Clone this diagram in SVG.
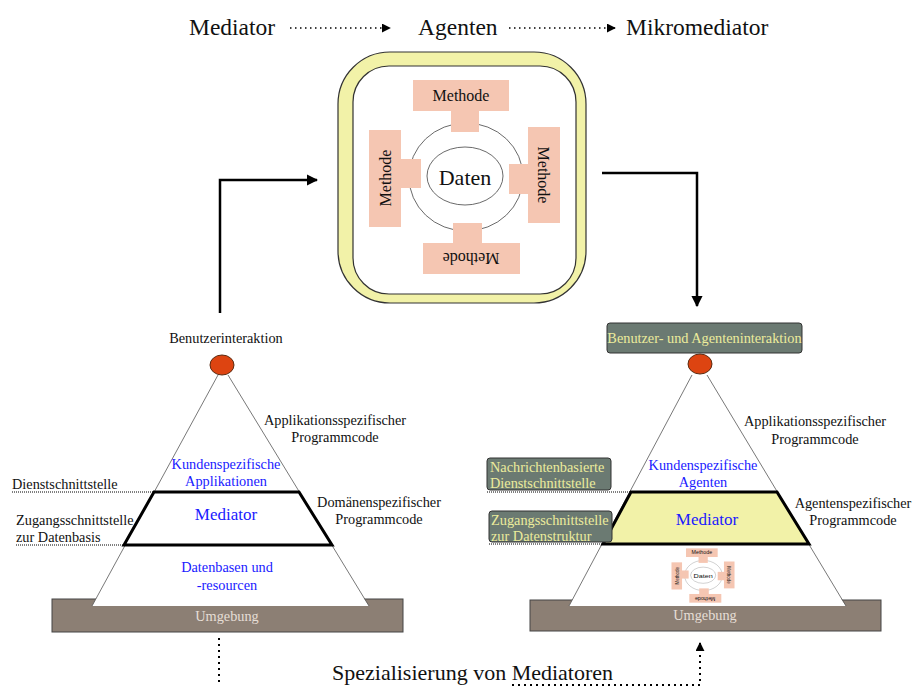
<svg xmlns="http://www.w3.org/2000/svg" xmlns:xlink="http://www.w3.org/1999/xlink" width="913" height="686" viewBox="0 0 913 686">
<style>
  text { font-family: "Liberation Serif", "Times New Roman", serif; fill: #111; }
  .t14 { font-size: 14.3px; }
  .blue { fill: #1a1aff; }
  .title { font-size: 23.5px; }
  .yel { fill: #ecec9c; }
  .box { fill: #6b7a72; stroke: #333; stroke-width: 1; }
  .salmon { fill: #f5c6b2; }
  .side { stroke: #555; stroke-width: 0.8; fill: none; }
  .trap { stroke: #000; stroke-width: 3; stroke-linejoin: miter; }
  .base { fill: #8c7f74; stroke: #444; stroke-width: 1; }
  .red { fill: #dd4411; stroke: #5a2a10; stroke-width: 1; }
  .thin-dot { stroke: #000; stroke-width: 1; stroke-dasharray: 1 1; fill: none; }
  .conn { stroke: #000; stroke-width: 2.5; fill: none; }
  .dots { stroke: #000; stroke-width: 2; stroke-dasharray: 2 4; fill: none; }
  .tdots { stroke: #000; stroke-width: 1.5; stroke-dasharray: 1.5 3.5; fill: none; }
</style>
<defs>
  <marker id="ah" viewBox="0 0 10 10" refX="9" refY="5" markerWidth="4.5" markerHeight="4.5" orient="auto" markerUnits="strokeWidth">
    <path d="M0,0 L10,5 L0,10 z" fill="#000"/>
  </marker>
  <marker id="ahs" viewBox="0 0 10 10" refX="9" refY="5" markerWidth="6" markerHeight="6" orient="auto" markerUnits="strokeWidth">
    <path d="M0,0 L10,5 L0,10 z" fill="#000"/>
  </marker>
  <g id="core">
    <ellipse cx="466" cy="177" rx="57" ry="54" fill="none" stroke="#444" stroke-width="0.8"/>
    <ellipse cx="465" cy="176" rx="38" ry="29" fill="#fff" stroke="#444" stroke-width="0.8"/>
    <text x="465" y="185" text-anchor="middle" style="font-size:22px;font-family:inherit">Daten</text>
    <rect class="salmon" x="413" y="80" width="96" height="31"/>
    <rect class="salmon" x="451" y="110" width="28" height="22"/>
    <text x="461" y="101" text-anchor="middle" style="font-size:16px;font-family:inherit">Methode</text>
    <rect class="salmon" x="369" y="130" width="32" height="97"/>
    <rect class="salmon" x="400" y="159" width="21" height="29"/>
    <text transform="translate(391,178) rotate(-90)" text-anchor="middle" style="font-size:16px;font-family:inherit">Methode</text>
    <rect class="salmon" x="528" y="127" width="32" height="96"/>
    <rect class="salmon" x="509" y="164" width="20" height="30"/>
    <text transform="translate(538,175) rotate(90)" text-anchor="middle" style="font-size:16px;font-family:inherit">Methode</text>
    <rect class="salmon" x="423" y="243" width="97" height="31"/>
    <rect class="salmon" x="453" y="223" width="29" height="21"/>
    <text transform="translate(471,253) rotate(180)" text-anchor="middle" style="font-size:16px;font-family:inherit">Methode</text>
  </g>
</defs>

<!-- Title row -->
<g id="title">
  <text class="title" x="189" y="35">Mediator</text>
  <text class="title" x="418" y="35">Agenten</text>
  <text class="title" x="626" y="35">Mikromediator</text>
</g>

<!-- Mikromediator -->
<g id="mikromediator">
  <rect x="338" y="52" width="248" height="251" rx="52" ry="52" fill="#f2f2a8" stroke="#333" stroke-width="1.2"/>
  <rect x="353" y="66" width="223" height="228" rx="36" ry="36" fill="#fff" stroke="#333" stroke-width="1.2"/>
  <use xlink:href="#core" style="font-family:'Liberation Serif', 'Times New Roman', serif"/>
</g>

<!-- Left pyramid -->
<g id="left-pyramid">
  <rect class="base" x="52" y="599" width="351" height="33"/>
  <polygon points="218,375 92,606 369,606" fill="#fff"/>
  <line class="side" x1="218" y1="375" x2="92" y2="606"/>
  <line class="side" x1="228" y1="375" x2="369" y2="606"/>
  <polygon class="trap" points="154,492 299,492 332,545 124,545" fill="#fff"/>
  <ellipse class="red" cx="222" cy="365" rx="12" ry="10"/>
  <text class="t14" x="226" y="343" text-anchor="middle">Benutzerinteraktion</text>
  <text class="t14" x="335" y="425" text-anchor="middle">Applikationsspezifischer</text>
  <text class="t14" x="335" y="442" text-anchor="middle">Programmcode</text>
  <text class="t14 blue" x="226" y="469" text-anchor="middle">Kundenspezifische</text>
  <text class="t14 blue" x="226" y="486" text-anchor="middle">Applikationen</text>
  <text class="blue" x="226" y="520" text-anchor="middle" style="font-size:17px">Mediator</text>
  <text class="t14 blue" x="227" y="572" text-anchor="middle">Datenbasen und</text>
  <text class="t14 blue" x="227" y="590" text-anchor="middle">-resourcen</text>
  <text class="t14" x="227" y="621" text-anchor="middle" style="fill:#e6ded6">Umgebung</text>
  <text class="t14" x="12" y="489">Dienstschnittstelle</text>
  <line class="thin-dot" x1="12" y1="492" x2="154" y2="492"/>
  <text class="t14" x="16" y="525">Zugangsschnittstelle</text>
  <text class="t14" x="16" y="542">zur Datenbasis</text>
  <line class="thin-dot" x1="16" y1="545" x2="124" y2="545"/>
  <text class="t14" x="379" y="507" text-anchor="middle">Domänenspezifischer</text>
  <text class="t14" x="379" y="524" text-anchor="middle">Programmcode</text>
</g>

<!-- Right pyramid -->
<g id="right-pyramid">
  <rect class="base" x="530" y="600" width="351" height="31"/>
  <polygon points="692,375 569,606 846,606" fill="#fff"/>
  <line class="side" x1="692" y1="375" x2="569" y2="606"/>
  <line class="side" x1="707" y1="375" x2="846" y2="606"/>
  <polygon class="trap" points="631,492 777,492 809,544 603,544" fill="#f2f2a8"/>
  <ellipse class="red" cx="700" cy="364" rx="12" ry="10"/>
  <rect class="box" x="607" y="323" width="195" height="30" rx="3"/>
  <text class="t14 yel" x="704.5" y="343" text-anchor="middle">Benutzer- und Agenteninteraktion</text>
  <text class="t14" x="815" y="426" text-anchor="middle">Applikationsspezifischer</text>
  <text class="t14" x="815" y="444" text-anchor="middle">Programmcode</text>
  <text class="t14 blue" x="703" y="470" text-anchor="middle">Kundenspezifische</text>
  <text class="t14 blue" x="703" y="487" text-anchor="middle">Agenten</text>
  <text class="blue" x="707" y="525" text-anchor="middle" style="font-size:17px">Mediator</text>
  <text class="t14" x="853" y="508" text-anchor="middle">Agentenspezifischer</text>
  <text class="t14" x="853" y="525" text-anchor="middle">Programmcode</text>
  <rect class="box" x="487" y="458" width="124" height="32" rx="3"/>
  <text class="t14 yel" x="490" y="472">Nachrichtenbasierte</text>
  <text class="t14 yel" x="490" y="488">Dienstschnittstelle</text>
  <line class="thin-dot" x1="487" y1="492" x2="631" y2="492"/>
  <rect class="box" x="489" y="511" width="123" height="31" rx="3"/>
  <text class="t14 yel" x="491" y="525">Zugangsschnittstelle</text>
  <text class="t14 yel" x="491" y="541">zur Datenstruktur</text>
  <line class="thin-dot" x1="489" y1="544" x2="603" y2="544"/>
  <g id="mini-mikromediator" transform="translate(703,575.5) scale(0.33,0.28) translate(-464.5,-177)">
    <use xlink:href="#core" style="font-family:'Liberation Sans', Arial, sans-serif"/>
  </g>
  <text class="t14" x="705" y="620" text-anchor="middle" style="fill:#e6ded6">Umgebung</text>
</g>

<!-- Bottom label -->
<g id="bottom-label">
  <text x="332" y="680" style="font-size:22px">Spezialisierung von Mediatoren</text>
</g>

<!-- Connectors -->
<g id="connectors">
  <line class="tdots" x1="290" y1="28" x2="390" y2="28" marker-end="url(#ahs)"/>
  <line class="tdots" x1="509" y1="28" x2="615" y2="28" marker-end="url(#ahs)"/>
  <path class="conn" d="M220,313 V180 H317" marker-end="url(#ah)"/>
  <path class="conn" d="M602,173 H697 V306" marker-end="url(#ah)"/>
  <path class="dots" d="M219,638 V686"/>
  <path class="dots" d="M512,685 H700 V643" marker-end="url(#ah)"/>
</g>
</svg>
